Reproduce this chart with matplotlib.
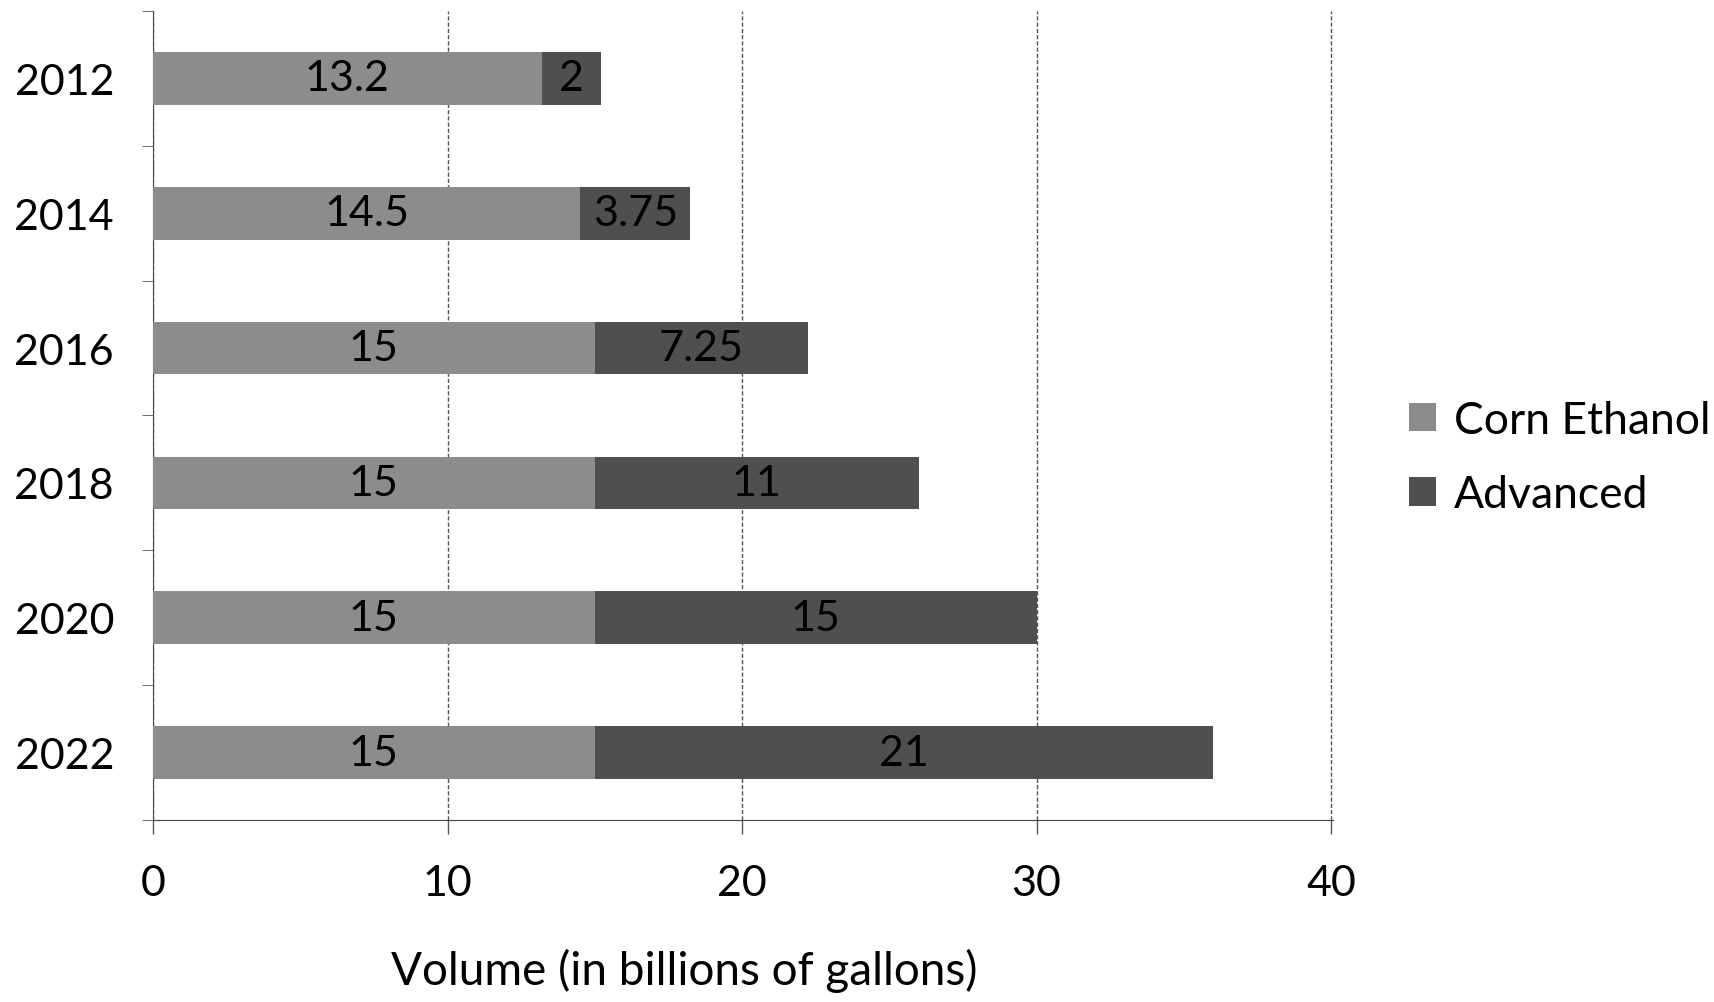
import matplotlib.pyplot as plt
import numpy as np

years = ['2012', '2014', '2016', '2018', '2020', '2022']
corn = [13.2, 14.5, 15, 15, 15, 15]
advanced = [2, 3.75, 7.25, 11, 15, 21]
corn_labels = ['13.2', '14.5', '15', '15', '15', '15']
adv_labels = ['2', '3.75', '7.25', '11', '15', '21']

plt.rcParams['font.family'] = ['Lato', 'DejaVu Sans']

fig = plt.figure(figsize=(17.15, 10.03), dpi=100)
ax = fig.add_axes([0.0892, 0.1815, 0.6878, 0.8065])

y = np.arange(len(years))
b1 = ax.barh(y, corn, height=0.39, color='#8c8c8c', label='Corn Ethanol', zorder=3)
b2 = ax.barh(y, advanced, left=corn, height=0.39, color='#4f4f4f', label='Advanced', zorder=3)
ax.bar_label(b1, labels=corn_labels, label_type='center', fontsize=31, color='black')
ax.bar_label(b2, labels=adv_labels, label_type='center', fontsize=31, color='black')

ax.set_xlim(0, 40.05)
ax.set_ylim(len(years) - 0.5, -0.5)
ax.set_xticks([0, 10, 20, 30, 40])
ax.tick_params(axis='x', labelsize=31, length=10, width=1, color='#555555', pad=22)
ax.set_yticks(y)
ax.set_yticklabels(years)
ax.tick_params(axis='y', labelsize=31, length=0, pad=28)
ax.set_yticks(np.arange(-0.5, len(years), 1), minor=True)
ax.tick_params(axis='y', which='minor', length=8, color='#555555')
ax.grid(axis='x', linestyle=(0, (3, 1.5)), color='#555555', linewidth=1, zorder=0)

for s in ['top', 'right']:
    ax.spines[s].set_visible(False)
ax.spines['left'].set_color('#444444')
ax.spines['bottom'].set_color('#444444')

ax.set_xlabel('Volume (in billions of gallons)', fontsize=33)
ax.xaxis.set_label_coords(0.45, -0.158)

ax.legend(loc='center left', bbox_to_anchor=(1.031, 0.448), frameon=False, fontsize=32,
          handlelength=0.6, handleheight=0.6, handletextpad=0.4, labelspacing=0.75)

fig.savefig('out.png', dpi=100)
